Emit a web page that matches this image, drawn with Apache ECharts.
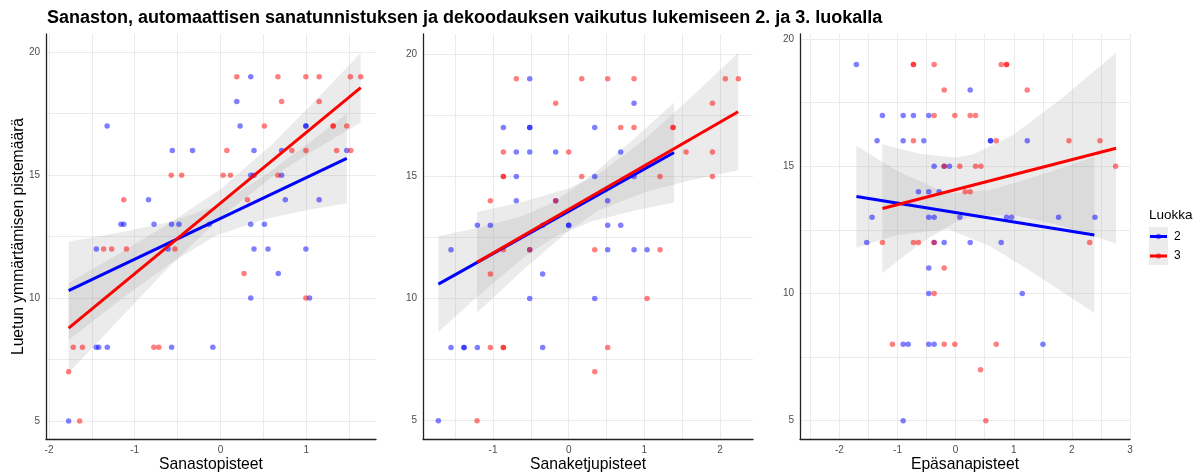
<!DOCTYPE html>
<html>
<head>
<meta charset="utf-8">
<title>Luokka 2 ja 3</title>
<script src="https://cdn.jsdelivr.net/npm/echarts@6.0.0/dist/echarts.min.js"></script>
<style>
  html, body { margin: 0; padding: 0; background: #fff; }
  #main { width: 1199px; height: 475px; }
</style>
</head>
<body>
<div id="main"></div>
<script>
// havainnot [x, pistemäärä], luokka 2 = sininen, luokka 3 = punainen
const sanastoLk2 = [
  [0.353, 19], [0.19, 18], [-1.322, 17], [0.229, 17], [0.996, 17], [0.996, 17],
  [-0.562, 16], [-0.326, 16], [0.391, 16], [0.713, 16], [1.473, 16],
  [0.353, 15], [0.391, 15], [0.713, 15],
  [-0.839, 14], [0.756, 14], [1.151, 14],
  [-1.161, 13], [-1.128, 13], [-0.775, 13], [-0.57, 13], [-0.484, 13], [-0.13, 13], [0.353, 13], [0.512, 13],
  [-1.448, 12], [-0.612, 12], [0.391, 12], [0.554, 12], [0.996, 12],
  [0.674, 11],
  [0.353, 10], [1.039, 10],
  [-1.45, 8], [-1.42, 8], [-1.32, 8], [-0.57, 8], [-0.089, 8],
  [-1.771, 5]
];
const sanastoLk3 = [
  [0.19, 19], [0.67, 19], [0.996, 19], [1.151, 19], [1.515, 19], [1.636, 19],
  [0.713, 18], [1.151, 18],
  [0.512, 17], [1.314, 17], [1.314, 17], [1.473, 17],
  [0.074, 16], [0.833, 16], [0.996, 16], [1.355, 16], [1.52, 16],
  [-0.574, 15], [-0.453, 15], [0.031, 15], [0.116, 15], [0.67, 15],
  [-1.128, 14], [0.314, 14],
  [-1.362, 12], [-1.269, 12], [-1.097, 12], [-0.531, 12],
  [0.275, 11],
  [0.996, 10],
  [-1.717, 8], [-1.61, 8], [-0.777, 8], [-0.719, 8],
  [-1.771, 7],
  [-1.643, 5]
];
const ketjuLk2 = [
  [-0.515, 19],
  [0.863, 18],
  [-0.863, 17], [-0.515, 17], [-0.515, 17], [0.344, 17],
  [-0.692, 16], [-0.515, 16], [-0.172, 16], [0.687, 16],
  [-0.692, 15], [0.344, 15], [0.863, 15],
  [-0.692, 14], [-0.172, 14], [0.515, 14],
  [-1.207, 13], [-1.035, 13], [-0.344, 13], [0.0, 13], [0.0, 13], [0.515, 13], [0.687, 13],
  [-1.555, 12], [-0.515, 12], [0.515, 12], [0.863, 12], [1.035, 12],
  [-0.344, 11],
  [-0.515, 10], [0.344, 10],
  [-1.555, 8], [-1.383, 8], [-1.383, 8], [-1.207, 8], [-0.344, 8],
  [-1.722, 5]
];
const ketjuLk3 = [
  [-0.692, 19], [0.172, 19], [0.515, 19], [0.863, 19], [2.07, 19], [2.242, 19],
  [-0.172, 18], [1.899, 18],
  [0.687, 17], [0.863, 17], [1.379, 17], [1.379, 17],
  [-0.863, 16], [0.0, 16], [1.551, 16], [1.899, 16],
  [-0.863, 15], [-0.863, 15], [0.172, 15], [1.207, 15], [1.899, 15],
  [-1.035, 14], [-0.172, 14],
  [-0.863, 12], [-0.515, 12], [0.344, 12], [1.207, 12],
  [-1.035, 11],
  [1.035, 10],
  [-1.035, 8], [-0.863, 8], [-0.863, 8], [0.515, 8],
  [0.344, 7],
  [-1.211, 5]
];
const epaLk2 = [
  [-1.708, 19],
  [0.25, 18],
  [-1.26, 17], [-0.903, 17], [-0.726, 17], [-0.462, 17],
  [-1.352, 16], [-0.903, 16], [-0.548, 16], [0.6, 16], [0.6, 16], [1.232, 16],
  [-0.37, 15], [-0.197, 15], [-0.106, 15],
  [-0.64, 14], [-0.462, 14], [-0.284, 14],
  [-1.438, 13], [-0.462, 13], [-0.37, 13], [0.072, 13], [0.876, 13], [0.962, 13], [1.771, 13], [2.397, 13],
  [-1.53, 12], [-0.37, 12], [-0.197, 12], [0.25, 12], [0.784, 12],
  [-0.462, 11],
  [-0.462, 10], [1.146, 10],
  [-0.903, 8], [-0.817, 8], [-0.462, 8], [-0.37, 8], [1.502, 8],
  [-0.903, 5]
];
const epaLk3 = [
  [-0.726, 19], [-0.726, 19], [-0.37, 19], [0.784, 19], [0.876, 19], [0.876, 19],
  [-0.197, 18], [1.232, 18],
  [-0.37, 17], [-0.014, 17], [0.25, 17], [0.342, 17],
  [-0.726, 16], [0.698, 16], [1.95, 16], [2.483, 16],
  [-0.197, 15], [0.072, 15], [0.342, 15], [0.434, 15], [2.753, 15],
  [0.164, 14], [0.25, 14],
  [-1.26, 12], [-0.726, 12], [-0.64, 12], [-0.37, 12], [2.306, 12],
  [-0.197, 11],
  [-0.37, 10],
  [-1.088, 8], [-0.197, 8], [-0.014, 8], [0.698, 8],
  [0.428, 7],
  [0.52, 5]
];

// regressiosuorat (alku- ja loppupiste)
const sanastoFit2 = [[-1.771, 10.30], [1.473, 15.68]];
const sanastoFit3 = [[-1.771, 8.78], [1.636, 18.56]];
const ketjuFit2 = [[-1.722, 10.59], [1.392, 15.98]];
const ketjuFit3 = [[-1.212, 11.48], [2.238, 17.65]];
const epaFit2 = [[-1.707, 13.81], [2.386, 12.30]];
const epaFit3 = [[-1.26, 13.34], [2.76, 15.71]];

// luottamusvyöt [x, ala, ylä]
const sanastoBand2 = [[-1.771, 8.30, 12.30], [-1.2, 9.85, 12.65], [-0.6, 11.38, 13.08], [-0.064, 12.53, 13.73], [0.5, 13.20, 14.94], [1.0, 13.57, 16.23], [1.473, 13.86, 17.50]];
const sanastoBand3 = [[-1.771, 6.95, 10.61], [-1.2, 9.07, 11.77], [-0.6, 11.26, 13.03], [0.0, 13.29, 14.43], [0.6, 14.91, 16.25], [1.1, 16.03, 18.01], [1.636, 17.14, 19.98]];
const ketjuBand2 = [[-1.722, 8.63, 12.55], [-1.2, 10.09, 12.89], [-0.6, 11.67, 13.39], [-0.2, 12.50, 13.94], [0.3, 13.15, 15.03], [0.85, 13.58, 16.50], [1.392, 13.93, 18.03]];
const ketjuBand3 = [[-1.212, 9.42, 13.54], [-0.6, 11.18, 13.96], [0.0, 12.78, 14.52], [0.4, 13.61, 15.11], [1.0, 14.35, 16.51], [1.6, 14.83, 18.19], [2.238, 15.25, 20.05]];
const epaBand2 = [[-1.707, 11.81, 15.81], [-1.0, 12.30, 14.80], [-0.13, 12.53, 13.93], [0.6, 11.85, 14.07], [1.3, 10.86, 14.54], [1.9, 9.97, 14.99], [2.386, 9.23, 15.37]];
const epaBand3 = [[-1.26, 10.81, 15.87], [-0.6, 11.98, 15.48], [0.0, 12.81, 15.35], [0.3, 13.06, 15.46], [1.0, 13.09, 16.25], [1.8, 12.67, 17.63], [2.76, 11.96, 19.46]];

// akselit
const xLabels1 = [-2, -1, 0, 1];
const xLabels2 = [-1, 0, 1, 2];
const xLabels3 = [-2, -1, 0, 1, 2, 3];
const xGrid1 = [-2, -1.5, -1, -0.5, 0, 0.5, 1, 1.5];
const xGrid2 = [-1.5, -1, -0.5, 0, 0.5, 1, 1.5, 2];
const xGrid3 = [-2.5, -2, -1.5, -1, -0.5, 0, 0.5, 1, 1.5, 2, 2.5, 3];
const yLabels = [5, 10, 15, 20];
const yGrid = [5, 7.5, 10, 12.5, 15, 17.5, 20];
const groupNames = ['2', '3'];

const FONT = '"Liberation Sans", Arial, sans-serif';
const BLUE = '#0000ff';
const RED = '#ff0000';

const panels = [
  { title: 'Sanastopisteet', left: 46, xMin: -2.035, xMax: 1.814, yMin: 4.27, yMax: 20.74, xLabels: xLabels1, xGrid: xGrid1,
    p2: sanastoLk2, p3: sanastoLk3, f2: sanastoFit2, f3: sanastoFit3, b2: sanastoBand2, b3: sanastoBand3 },
  { title: 'Sanaketjupisteet', left: 423, xMin: -1.925, xMax: 2.435, yMin: 4.25, yMax: 20.83, xLabels: xLabels2, xGrid: xGrid2,
    p2: ketjuLk2, p3: ketjuLk3, f2: ketjuFit2, f3: ketjuFit3, b2: ketjuBand2, b3: ketjuBand3 },
  { title: 'Epäsanapisteet', left: 800, xMin: -2.678, xMax: 3.0, yMin: 4.28, yMax: 20.2, xLabels: xLabels3, xGrid: xGrid3,
    p2: epaLk2, p3: epaLk3, f2: epaFit2, f3: epaFit3, b2: epaBand2, b3: epaBand3 }
];

function pointSeries(data, g, color) {
  return {
    type: 'scatter', xAxisIndex: g, yAxisIndex: g, data: data,
    symbolSize: 5.5, itemStyle: { color: color, opacity: 0.5 }, silent: true
  };
}

function bandSeries(band, g) {
  return {
    type: 'custom', xAxisIndex: g, yAxisIndex: g, silent: true,
    data: [[band[0][0], band[0][1]]],
    renderItem: function (params, api) {
      let pts = [];
      band.forEach(function (r) { pts.push(api.coord([r[0], r[2]])); });
      band.slice().reverse().forEach(function (r) { pts.push(api.coord([r[0], r[1]])); });
      return { type: 'polygon', shape: { points: pts }, style: { fill: 'rgba(153,153,153,0.2)' } };
    }
  };
}

function fitSeries(data, g, color) {
  return {
    type: 'line', xAxisIndex: g, yAxisIndex: g, data: data, showSymbol: false, silent: true,
    lineStyle: { color: color, width: 3 }
  };
}

let grids = [], xAxes = [], yAxes = [], series = [];
panels.forEach(function (p, g) {
  grids.push({ left: p.left, width: 330, top: 34, height: 405, outerBoundsMode: 'none', containLabel: false });
  xAxes.push({
    type: 'value', gridIndex: g, min: p.xMin, max: p.xMax,
    name: p.title, nameLocation: 'middle', nameGap: 18, nameMoveOverlap: false,
    nameTextStyle: { fontFamily: FONT, fontSize: 15.7, color: '#000' },
    axisLine: { show: true, onZero: false, lineStyle: { color: '#222', width: 1.3 } },
    axisTick: { show: false, customValues: p.xGrid },
    axisLabel: { customValues: p.xLabels, color: '#4d4d4d', fontFamily: FONT, fontSize: 10, margin: 6 },
    splitLine: { show: true, lineStyle: { color: '#ebebeb', width: 1 } }
  });
  yAxes.push({
    type: 'value', gridIndex: g, min: p.yMin, max: p.yMax,
    name: g === 0 ? 'Luetun ymmärtämisen pistemäärä' : '',
    nameLocation: 'middle', nameGap: 19, nameMoveOverlap: false,
    nameTextStyle: { fontFamily: FONT, fontSize: 15.7, color: '#000' },
    axisLine: { show: true, onZero: false, lineStyle: { color: '#222', width: 1.3 } },
    axisTick: { show: false, customValues: yGrid },
    axisLabel: { customValues: yLabels, color: '#4d4d4d', fontFamily: FONT, fontSize: 10, margin: 6 },
    splitLine: { show: true, lineStyle: { color: '#ebebeb', width: 1 } }
  });
  series.push(pointSeries(p.p2, g, BLUE));
  series.push(pointSeries(p.p3, g, RED));
  series.push(bandSeries(p.b2, g));
  series.push(fitSeries(p.f2, g, BLUE));
  series.push(bandSeries(p.b3, g));
  series.push(fitSeries(p.f3, g, RED));
});

// selite
const legendItems = [];
groupNames.forEach(function (name, i) {
  const y = 236.5 + i * 19.5;
  const color = i === 0 ? BLUE : RED;
  legendItems.push({ type: 'line', shape: { x1: 1150, y1: y, x2: 1167, y2: y }, style: { stroke: color, lineWidth: 3 } });
  legendItems.push({ type: 'circle', shape: { cx: 1158.5, cy: y, r: 2.7 }, style: { fill: color, opacity: 0.5 } });
  legendItems.push({ type: 'text', x: 1174, y: y, style: { text: name, fontFamily: FONT, fontSize: 12, fill: '#000', verticalAlign: 'middle' } });
});

const option = {
  animation: false,
  backgroundColor: '#fff',
  title: {
    text: 'Sanaston, automaattisen sanatunnistuksen ja dekoodauksen vaikutus lukemiseen 2. ja 3. luokalla',
    left: 47, top: 9, padding: 0,
    textStyle: { fontFamily: FONT, fontSize: 18, fontWeight: 'bold', color: '#000' }
  },
  grid: grids,
  xAxis: xAxes,
  yAxis: yAxes,
  series: series,
  graphic: [
    { type: 'text', x: 1149, y: 215, style: { text: 'Luokka', fontFamily: FONT, fontSize: 13.5, fill: '#000', verticalAlign: 'middle' } },
    { type: 'rect', shape: { x: 1149, y: 227, width: 19, height: 38 }, style: { fill: '#ebebeb' } }
  ].concat(legendItems)
};

const chart = echarts.init(document.getElementById('main'));
chart.setOption(option);
</script>
</body>
</html>
